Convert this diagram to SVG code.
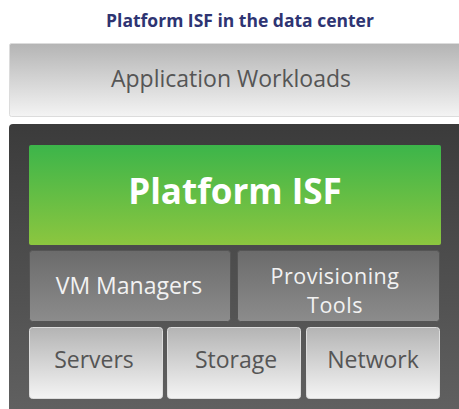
<svg xmlns="http://www.w3.org/2000/svg" width="459" height="409" viewBox="0 0 459 409">
<defs>
<linearGradient id="gLight" x1="0" y1="0" x2="0" y2="1"><stop offset="0" stop-color="#b4b4b4"/><stop offset="1" stop-color="#f4f4f4"/></linearGradient>
<linearGradient id="gDark" x1="0" y1="0" x2="0" y2="1"><stop offset="0" stop-color="#3b3b3b"/><stop offset="1" stop-color="#626262"/></linearGradient>
<linearGradient id="gGreen" x1="0" y1="0" x2="0" y2="1"><stop offset="0" stop-color="#3cb54a"/><stop offset="1" stop-color="#8cc63f"/></linearGradient>
<linearGradient id="gMid" x1="0" y1="0" x2="0" y2="1"><stop offset="0" stop-color="#6b6b6b"/><stop offset="1" stop-color="#8c8c8c"/></linearGradient>
<style>
text{font-family:"Open Sans","Noto Sans",sans-serif;text-anchor:middle}
.lt{fill:url(#gLight);stroke:#dcdcdc;stroke-width:1}
.md{fill:url(#gMid);stroke:#555;stroke-width:1}
.dk{font-size:23px;fill:#555}
.wt{font-size:23px;fill:#f2f2f2}
.wt2{font-size:21.5px;fill:#f2f2f2;letter-spacing:0.5px}
</style>
</defs>
<rect width="459" height="409" fill="#ffffff"/>
<text x="240" y="27" style="font-size:17.5px;font-weight:bold;fill:#2e3472">Platform ISF in the data center</text>
<g id="app">
<rect class="lt" x="9.5" y="43.5" width="455" height="73" rx="2"/>
<text class="dk" x="231" y="87">Application Workloads</text>
</g>
<g id="stack">
<rect x="9" y="124" width="460" height="300" rx="4" fill="url(#gDark)"/>
</g>
<g id="isf">
<rect x="29" y="145" width="412" height="100" rx="2" fill="url(#gGreen)"/>
<text x="235" y="204" style="font-size:35px;font-weight:bold;fill:#ffffff">Platform ISF</text>
</g>
<g id="vm">
<rect class="md" x="29.5" y="250.5" width="201" height="71" rx="3"/>
<text class="wt" x="129" y="294">VM Managers</text>
</g>
<g id="prov">
<rect class="md" x="237.5" y="250.5" width="202" height="71" rx="3"/>
<text class="wt2" x="335" y="284">Provisioning</text>
<text class="wt2" x="335" y="313">Tools</text>
</g>
<g id="servers">
<rect class="lt" x="29.5" y="327.5" width="133" height="71" rx="3"/>
<text class="dk" x="94" y="368">Servers</text>
</g>
<g id="storage">
<rect class="lt" x="167.5" y="327.5" width="133" height="71" rx="3"/>
<text class="dk" x="236" y="368">Storage</text>
</g>
<g id="network">
<rect class="lt" x="306.5" y="327.5" width="133" height="71" rx="3"/>
<text class="dk" x="373" y="368">Network</text>
</g>
<g id="connectors"/>
</svg>
